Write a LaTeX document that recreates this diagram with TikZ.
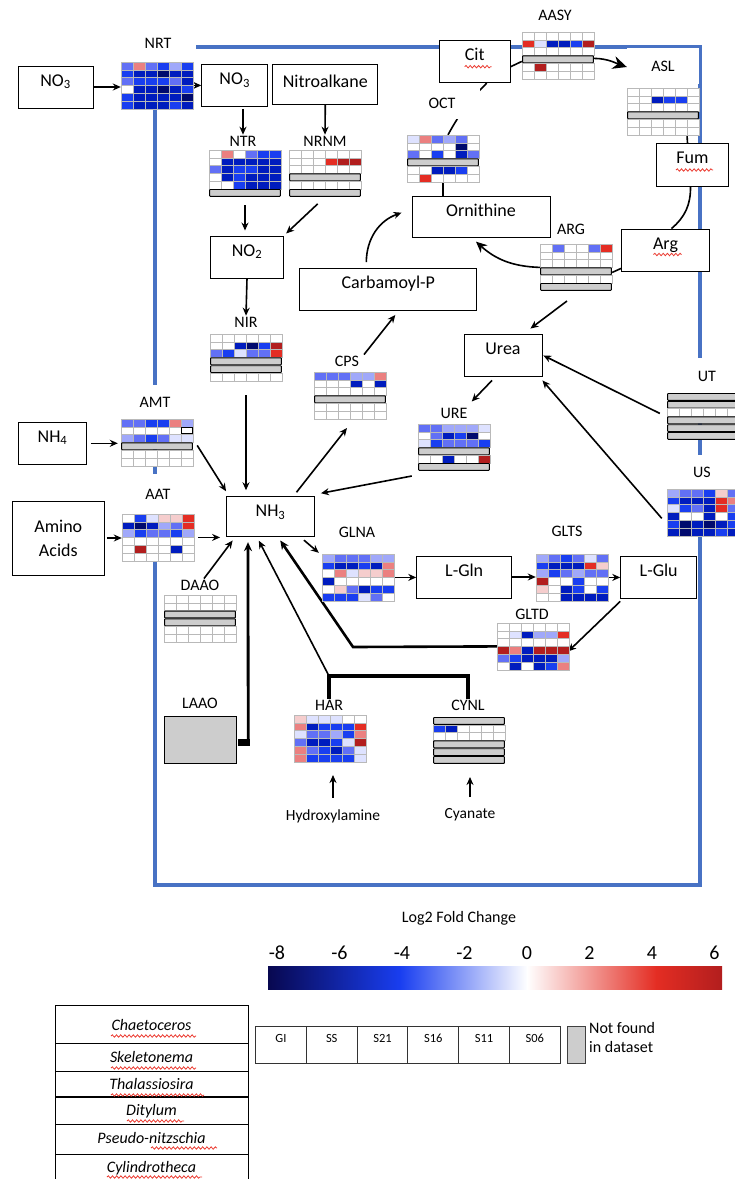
\documentclass[tikz,border=0pt]{standalone}
\usepackage{fontspec}
\setmainfont{Carlito}
\usepackage{tikz}
\usetikzlibrary{positioning,arrows.meta,decorations.pathmorphing}

\definecolor{hmw}{RGB}{255,255,255}
\definecolor{hmk}{RGB}{255,255,255}
\definecolor{hma}{RGB}{222,226,255}
\definecolor{hmb}{RGB}{160,168,250}
\definecolor{hmc}{RGB}{98,112,245}
\definecolor{hmd}{RGB}{25,62,240}
\definecolor{hme}{RGB}{0,28,190}
\definecolor{hmf}{RGB}{0,10,110}
\definecolor{hmp}{RGB}{245,205,205}
\definecolor{hmq}{RGB}{235,128,128}
\definecolor{hmr}{RGB}{228,45,35}
\definecolor{hms}{RGB}{178,30,30}
\definecolor{hmgrid}{RGB}{185,185,185}
\definecolor{hmgray}{RGB}{205,205,205}
\definecolor{fcnavy}{RGB}{8,8,80}
\definecolor{frameblue}{RGB}{72,114,196}
\definecolor{squigred}{RGB}{235,60,50}

\newcommand{\boxfont}{\fontsize{18}{21}\selectfont}
\newcommand{\lblfont}{\fontsize{16}{19}\selectfont}
\newcommand{\subsfont}{\fontsize{15.5}{18}\selectfont}
\newcommand{\tickfont}{\fontsize{20}{24}\selectfont}
\newcommand{\spfont}{\fontsize{16}{19}\selectfont\itshape}
\newcommand{\sampfont}{\fontsize{12.5}{15}\selectfont}

\pgfdeclarelayer{background}
\pgfsetlayers{background,main}

\newcommand{\heatmap}[4]{%
  \node[hmframe] (#1) at ({#2+36},{#3+23.4}) {};
  \foreach \hmrow [count=\hmi from 0] in {#4} {
    \foreach \hmc [count=\hmj from 0] in \hmrow {
      \if\hmc G
        \draw[hmbar] ({#2+0.6},{#3+\hmi*7.8+0.5}) rectangle ({#2+71.4},{#3+\hmi*7.8+7.3});
      \else
        \draw[hmcell,fill=hm\hmc] ({#2+\hmj*12},{#3+\hmi*7.8}) rectangle ++(12,7.8);
        \if\hmc k\draw[black,line width=1.2pt] ({#2+\hmj*12+0.8},{#3+\hmi*7.8+0.8}) rectangle ++(10.4,6.2);\fi
      \fi
    }
  }
}

\begin{document}
\begin{tikzpicture}[x=1pt,y=-1pt,>={Stealth[length=8pt,width=7pt]},
  sbox/.style={draw,line width=0.9pt,fill=white,inner xsep=0pt,inner ysep=0pt,text height=20pt,text depth=22pt,font=\boxfont},
  hmlbl/.style={font=\lblfont,inner sep=1pt},
  hmlblw/.style={hmlbl,fill=white,minimum width=76pt,minimum height=34pt},
  hmframe/.style={inner sep=0pt,minimum width=72pt,minimum height=46.8pt},
  hmcell/.style={draw=hmgrid,line width=0.6pt},
  hmbar/.style={draw=black,fill=hmgray,line width=0.9pt,rounded corners=0.6pt},
  link/.style={line width=1.6pt,->},
  plainlink/.style={line width=1.6pt},
  thicklink/.style={line width=2.8pt,-{Stealth[length=9pt,width=8pt]}},
  gltdline/.style={line width=2.6pt,-{Stealth[length=9pt,width=8pt]}},
  bracketline/.style={line width=3.4pt},
  frameline/.style={frameblue,line width=3.2pt},
  squig/.style={squigred,line width=0.8pt,decorate,decoration={snake,amplitude=1.2pt,segment length=4.2pt}},
  tabline/.style={line width=1pt},
  samplecell/.style={draw=black!80,line width=0.9pt,minimum width=50.75pt,inner sep=0pt,text height=16pt,text depth=21pt,font=\sampfont}]
\useasboundingbox (0,0) rectangle (735,1179);

\node[sbox,minimum width=75pt] (no3a) at (55.5,87) {NO\textsubscript{3}};
\node[sbox,minimum width=66pt] (no3b) at (234.7,85.5) {NO\textsubscript{3}};
\node[sbox,minimum width=105pt,text height=23pt,text depth=17pt] (nitro) at (325.3,84) {Nitroalkane};
\node[sbox,minimum width=71pt] (cit) at (474.7,61.7) {Cit};
\node[sbox,minimum width=72pt,text depth=23pt] (fum) at (692.5,165) {Fum};
\node[sbox,minimum width=138pt,text depth=21pt] (orn) at (481,216.7) {Ornithine};
\node[sbox,minimum width=73pt] (no2) at (247,257) {NO\textsubscript{2}};
\node[sbox,minimum width=177pt] (carb) at (388.3,289.5) {Carbamoyl-P};
\node[sbox,minimum width=88pt] (arg) at (665.5,250) {Arg};
\node[sbox,minimum width=78pt] (urea) at (503,355) {Urea};
\node[sbox,minimum width=68pt] (nh4) at (52.5,443.3) {NH\textsubscript{4}};
\node[draw,line width=0.9pt,fill=white,minimum width=92pt,minimum height=74pt,align=center,font=\fontsize{18}{24}\selectfont] (amino) at (58.3,538) {Amino\\Acids};
\node[sbox,minimum width=88pt,text depth=20pt] (nh3) at (270.5,516.7) {NH\textsubscript{3}};
\node[sbox,minimum width=95pt] (lgln) at (464.2,577) {L-Gln};
\node[sbox,minimum width=76pt] (lglu) at (658.7,577.5) {L-Glu};
\node[font=\subsfont] (hydro) at (333,816) {Hydroxylamine};
\node[font=\subsfont] (cyan) at (470,815) {Cyanate};

\node[hmlblw,minimum height=38pt] (nrtlbl) at (158,43) {NRT};
\node[hmlbl] (ntrlbl) at (243,141) {NTR};
\node[hmlbl] (nrnmlbl) at (325,141) {NRNM};
\node[hmlbl] (nirlbl) at (246,322) {NIR};
\node[hmlbl] (cpslbl) at (347,361) {CPS};
\node[hmlbl] (urelbl) at (454,413) {URE};
\node[hmlbl] (aasylbl) at (555,15) {AASY};
\node[hmlblw,minimum width=72pt,minimum height=36pt] (asllbl) at (663,66) {ASL};
\node[hmlblw,minimum height=32pt] (octlbl) at (442,103) {OCT};
\node[hmlbl] (arglbl) at (571,229) {ARG};
\node[hmlblw,minimum height=36pt] (utlbl) at (707,376) {UT};
\node[hmlblw] (uslbl) at (702,472) {US};
\node[hmlblw] (amtlbl) at (155,402) {AMT};
\node[hmlblw,minimum height=40pt] (aatlbl) at (158,494) {AAT};
\node[hmlbl] (daaolbl) at (200,585) {DAAO};
\node[hmlbl] (glnalbl) at (357,532) {GLNA};
\node[hmlbl] (gltslbl) at (567,531) {GLTS};
\node[hmlbl] (gltdlbl) at (532,614) {GLTD};
\node[hmlbl] (harlbl) at (329,705) {HAR};
\node[hmlbl] (cynllbl) at (468,705) {CYNL};
\node[hmlbl] (laaolbl) at (200,703) {LAAO};

\heatmap{nrtmap}{121}{62}{{c,q,c,d,b,d},{d,e,e,f,e,e},{c,d,d,d,c,e},{w,e,e,f,e,d},{d,e,e,e,e,f},{d,e,e,e,d,e}}
\heatmap{ntrmap}{209}{150}{{w,q,w,c,d,d},{w,e,e,e,e,e},{c,e,d,d,e,e},{w,e,d,e,e,e},{w,w,d,e,e,e},G}
\heatmap{nrnmmap}{289}{150}{{w,w,w,w,w,w},{w,w,w,r,s,s},{w,w,w,w,w,w},G,{w,w,w,w,w,w},G}
\heatmap{nirmap}{210}{334}{{w,w,w,w,w,w},{w,w,e,f,d,s},{c,d,a,c,c,r},G,G,{w,w,w,w,w,w}}
\heatmap{cpsmap}{314}{372}{{c,c,c,b,b,q},{w,w,w,e,w,e},{w,w,w,w,w,w},G,{w,w,w,w,w,w},{w,w,w,w,w,w}}
\heatmap{uremap}{418}{424}{{c,c,b,b,b,a},{w,c,e,d,f,w},{a,d,c,c,c,d},G,{w,w,e,w,w,s},G}
\heatmap{aasymap}{522}{32}{{w,w,w,w,w,w},{r,a,e,e,d,s},{w,w,w,w,w,w},G,{w,s,w,w,w,w},{w,w,w,w,w,w}}
\heatmap{aslmap}{627}{88}{{w,w,w,w,w,w},{w,w,e,d,d,w},{w,w,w,w,w,w},G,{w,w,w,w,w,w},{w,w,w,w,w,w}}
\heatmap{octmap}{407}{135}{{a,q,c,b,c,w},{w,w,w,w,f,w},{c,w,d,w,e,c},G,{w,w,e,e,d,w},{w,r,w,w,w,w}}
\heatmap{argmap}{540}{244}{{w,c,w,w,c,r},{w,w,w,w,w,w},{w,w,w,w,w,w},G,{w,w,w,w,w,w},G}
\heatmap{utmap}{667}{393}{G,G,{w,w,w,w,w,w},G,G,G}
\heatmap{usmap}{667}{489}{{b,c,c,d,p,c},{d,e,e,e,r,q},{a,d,c,e,r,c},{e,w,w,e,w,d},{d,f,e,f,e,d},{e,f,e,e,d,e}}
\heatmap{amtmap}{121}{419}{{c,c,d,d,q,b},{w,w,w,w,w,k},{b,c,d,c,a,a},G,{w,w,w,w,w,w},{w,w,w,w,w,w}}
\heatmap{aatmap}{122}{514}{{w,d,a,p,p,r},{e,f,e,b,c,r},{b,d,c,c,d,b},{w,w,w,w,w,w},{w,s,w,w,e,w},{w,w,w,w,w,w}}
\heatmap{daaomap}{164}{595}{{w,w,w,w,w,w},{w,w,w,w,w,w},G,G,{w,w,w,w,w,w},{w,w,w,w,w,w}}
\heatmap{glnamap}{322}{554}{{b,c,c,c,b,b},{d,e,e,d,e,q},{w,q,a,p,p,q},{e,w,w,w,w,w},{w,p,c,e,d,d},{d,d,d,a,c,w}}
\heatmap{gltsmap}{536}{554}{{b,c,d,c,a,c},{d,e,e,e,r,p},{b,d,c,b,c,c},{s,w,w,d,w,w},{p,w,e,d,w,d},{w,w,e,e,e,e}}
\heatmap{gltdmap}{497}{623}{{w,w,w,w,w,w},{w,a,e,b,b,r},{w,w,w,w,w,w},{s,q,e,s,s,s},{c,d,e,e,e,b},{w,e,w,e,d,q}}
\heatmap{harmap}{294}{715}{{p,a,a,a,w,w},{q,e,d,d,d,r},{a,c,c,b,d,q},{c,e,e,d,a,s},{q,c,d,e,c,a},{q,d,d,d,d,a}}
\heatmap{cynlmap}{433}{717}{G,{d,e,w,w,w,w},{w,w,w,w,w,w},G,G,G}
\node[draw=black,fill=hmgray,line width=1pt,inner sep=0pt,minimum width=72pt,minimum height=47pt] (laaomap) at (200,740) {};
\node[fill=black,inner sep=0pt,minimum width=12pt,minimum height=7pt] (laaosq) at (244,742.5) {};

\draw[squig] ([shift={(-10,5)}]cit.center) -- ++(27,0);
\draw[squig] ([shift={(-16.5,5)}]fum.center) -- ++(37,0);
\draw[squig] ([shift={(-12,4.5)}]arg.center) -- ++(28,0);

\begin{pgfonlayer}{background}
\draw[frameline] (155,47) rectangle (700,885);
\draw[link] (no3a.east) -- (no3a.east -| nrtmap.west);
\draw[link] (nrtmap.east) -- (nrtmap.east -| no3b.west);
\draw[link,shorten <=2pt] (ntrlbl.north |- no3b.south) -- (ntrlbl.north);
\draw[link] (nitro.south) -- (nrnmlbl.north);
\draw[link,shorten <=8pt,shorten >=5pt] (ntrmap.south) -- (ntrmap.south |- no2.north);
\draw[link,shorten <=10pt,shorten >=3pt] (nrnmmap.south) -- (no2.north east);
\draw[link] (no2.south) -- (nirlbl.north);
\draw[link,shorten <=14pt,shorten >=6pt] (nirmap.south) -- (nirmap.south |- nh3.north);
\draw[link] ([xshift=17pt]cpslbl.north) -- ([shift={(7,4)}]carb.south);
\draw[link] ([shift={(26,-4)}]nh3.north) -- ([shift={(-3,9)}]cpsmap.south);
\draw[link] ([shift={(-22,-6)}]carb.north) to[bend left=35] ([shift={(-10,-4)}]orn.west);
\draw[plainlink,-{Stealth[length=11pt,width=10pt]}] (argmap.west) to[bend left=20] ([shift={(-5,4)}]orn.south);
\draw[plainlink] ([shift={(0,5)}]argmap.east) -- ([shift={(0,-3)}]arg.south west);
\draw[plainlink] ([xshift=-2pt]fum.south) to[bend left=25] ([xshift=6pt]arg.north);
\draw[plainlink] ([xshift=24pt]aslmap.south) -- ([xshift=-5pt]fum.north);
\draw[plainlink,-{Stealth[length=14pt,width=13pt]}] ([shift={(0,3)}]aasymap.east) .. controls +(14,0) and +(-9,-3) .. ([shift={(0,1)}]asllbl.west);
\draw[plainlink] ([shift={(0,5)}]cit.east) -- ([shift={(0,6)}]aasymap.west);
\draw[plainlink] ([xshift=5pt]octmap.north) to[bend left=8] ([xshift=12pt]cit.south);
\draw[plainlink] (octmap.south) -- (octmap.south |- orn.north);
\draw[link,shorten <=4pt,shorten >=3pt] (nh4.east) -- (nh4.east -| amtmap.west);
\draw[link,shorten <=2pt] (amino.east) -- (amino.east -| aatmap.west);
\draw[link] ([shift={(4,3)}]amtmap.east) -- ([shift={(0,-5)}]nh3.north west);
\draw[link,shorten <=4pt,shorten >=6pt] (aatmap.east) -- (aatmap.east -| nh3.west);
\draw[link] ([xshift=4pt]daaolbl.north) -- ([shift={(6.6,3.3)}]nh3.south west);
\draw[thicklink,shorten >=5pt] ([xshift=-2pt]laaosq.north east) -- ([xshift=-22.5pt]nh3.south);
\coordinate (hcjoin) at (329,676);
\draw[bracketline] (harlbl.north) -- (hcjoin) -| (cynllbl.north);
\draw[link,shorten >=4pt] (hcjoin) -- ([xshift=-13.5pt]nh3.south);
\coordinate (gltdbend) at (353,647);
\draw[gltdline,shorten >=4pt] (gltdmap.west) -- (gltdbend) -- ([xshift=7.5pt]nh3.south);
\draw[link] ([shift={(-11,3)}]nh3.south east) -- ([shift={(-3,-1)}]glnamap.north west);
\draw[link] ([shift={(-6,5)}]uremap.south west) -- ([shift={(6,-3)}]nh3.north east);
\draw[link] ([shift={(-11,4)}]urea.south) -- ([shift={(17.7,-22.3)}]uremap.north);
\draw[link] ([shift={(-9,10)}]argmap.south) -- ([shift={(-12,-5)}]urea.north east);
\draw[link,shorten >=1pt] ([shift={(-7,-3)}]utmap.west) -- (urea.east);
\draw[link] ([shift={(-5,6)}]usmap.west) -- ([shift={(0,4)}]urea.south east);
\draw[link] (glnamap.east) -- (glnamap.east -| lgln.west);
\draw[link] (lgln.east) -- (lgln.east -| gltsmap.west);
\draw[link] (gltsmap.east) -- (gltsmap.east -| lglu.west);
\draw[link] ([shift={(0,2.4)}]lglu.south west) -- ([shift={(-1,5)}]gltdmap.east);
\draw[link,shorten >=13pt] ([yshift=8pt]hydro.north) -- (hydro.north |- harmap.south);
\draw[link,shorten >=13pt] ([yshift=8pt]cyan.north) -- (cyan.north |- cynlmap.south);
\end{pgfonlayer}

\node[font=\lblfont] (fctitle) at (459,918) {Log2 Fold Change};
\shade[left color=fcnavy,right color=hmd] (268,966) rectangle (400.5,989);
\shade[left color=hmd,right color=white] (400,966) rectangle (527.5,989);
\shade[left color=white,right color=hmr] (527,966) rectangle (656.5,989);
\shade[left color=hmr,right color=hms] (656,966) rectangle (722,989);
\foreach \v in {-8,-6,...,6}
  \node[font=\tickfont] (tick\v) at ({527+31.25*\v},953) {\v};

\draw[tabline] (55,1190) -- (55,1005) -- (248,1005) -- (248,1190);
\foreach \yy in {1043,1071,1124,1154}
  \draw[tabline] (55,\yy) -- (248,\yy);
\draw[tabline,line width=2.4pt] (55,1097) -- (248,1097);
\foreach \sp/\yy [count=\k] in {Chaetoceros/1025,Skeletonema/1057,Thalassiosira/1084,Ditylum/1111,Pseudo-nitzschia/1138,Cylindrotheca/1168}
  \node[font=\spfont] (sp\k) at (151.5,\yy) {\sp};
\foreach \xa/\xb/\yy in {111/196/1036,111/196/1068,111/204/1095,127/184/1121,151/217/1148,107/202/1177}
  \draw[squig] (\xa,\yy) -- (\xb,\yy);

\foreach \s [count=\k from 0] in {GI,SS,S21,S16,S11,S06}
  \node[samplecell] (samp\k) at ({281+50.75*\k},1044.5) {\s};
\node[draw=black!75,fill=hmgray,line width=0.9pt,inner sep=0pt,minimum width=18pt,minimum height=37pt] (nfbox) at (576,1044.5) {};
\node[anchor=west,align=left,inner sep=0pt,font=\fontsize{16}{19}\selectfont] (nftext) at (589,1037) {Not found\\in dataset};
\end{tikzpicture}
\end{document}
